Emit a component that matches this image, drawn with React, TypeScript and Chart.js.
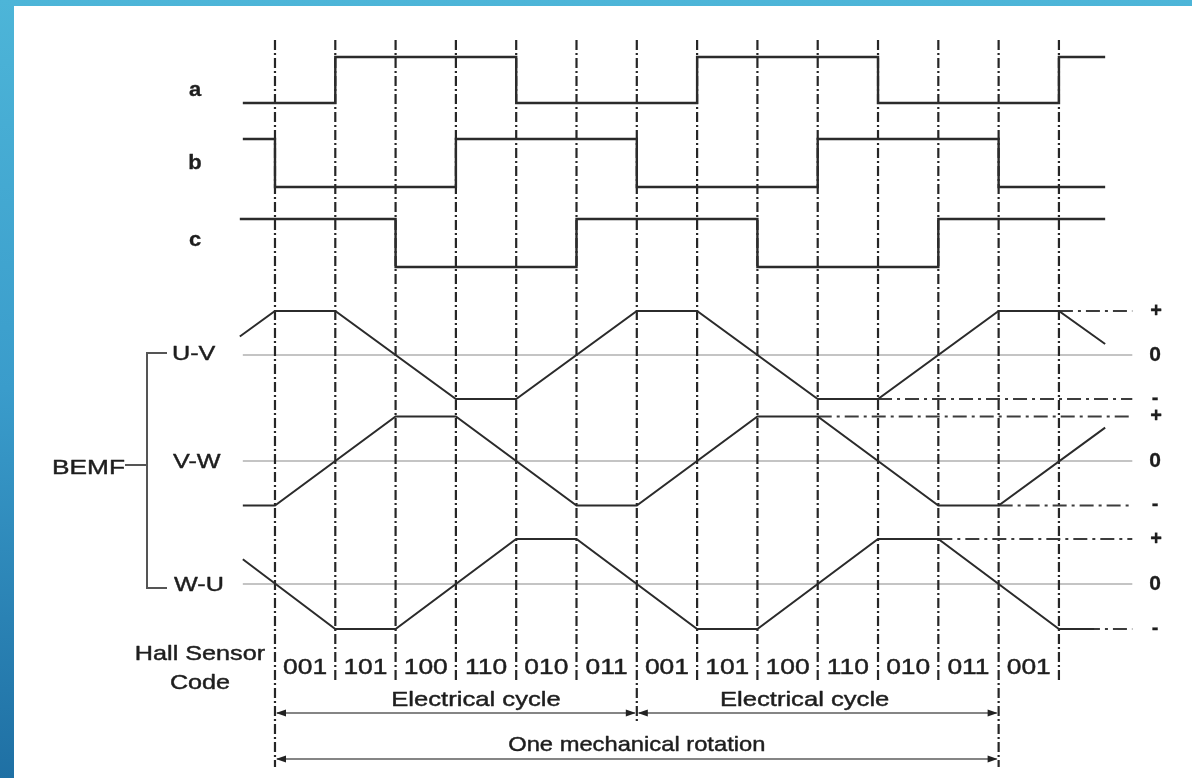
import React, { useEffect, useRef } from "react";
import { Chart, registerables } from "chart.js";

Chart.register(...registerables);

// ---- data (x in electrical degrees) ----
const boundaries = [0, 60, 120, 180, 240, 300, 360, 420, 480, 540, 600, 660, 720, 780];
const longBoundaries = [0, 720];
const midBoundaries = [360];
const hallCodes = ["001", "101", "100", "110", "010", "011", "001", "101", "100", "110", "010", "011", "001"];

// Hall signals: [edge angle, new level]
const hallA: number[][] = [[-32, 0], [60, 1], [240, 0], [420, 1], [600, 0], [780, 1], [826, 1]];
const hallB: number[][] = [[-32, 1], [0, 0], [180, 1], [360, 0], [540, 1], [720, 0], [826, 0]];
const hallC: number[][] = [[-35, 1], [120, 0], [300, 1], [480, 0], [660, 1], [826, 1]];

// BEMF trapezoids: [angle, level -1..1]
const bemfUV: number[][] = [[-35, 0.42], [0, 1], [60, 1], [180, -1], [240, -1], [360, 1], [420, 1], [540, -1], [600, -1], [720, 1], [780, 1], [826, 0.25]];
const bemfVW: number[][] = [[-32, -1], [0, -1], [120, 1], [180, 1], [300, -1], [360, -1], [480, 1], [540, 1], [660, -1], [720, -1], [826, 0.75]];
const bemfWU: number[][] = [[-32, 0.55], [60, -1], [120, -1], [240, 1], [300, 1], [420, -1], [480, -1], [600, 1], [660, 1], [780, -1], [815, -1]];

// level reference extensions: [lane, level, start angle]
const levelRefs: [string, number, number][] = [
  ["uv", 1, 780], ["uv", -1, 600],
  ["vw", 1, 540], ["vw", -1, 720],
  ["wu", 1, 660], ["wu", -1, 780],
];
const zeroStart = -32;
const refEnd = 853;

const electricalCycles = [[0, 360], [360, 720]];
const electricalLabelAt = [200, 527];
const mechanicalRotation = [0, 720];
const mechanicalLabelAt = 360;

// ---- layout (pixel lanes) ----
const lanes: Record<string, { base: number; amp: number }> = {
  a: { base: 103, amp: 46 },
  b: { base: 187, amp: 48 },
  c: { base: 267, amp: 48 },
  uv: { base: 355, amp: 44 },
  vw: { base: 461, amp: 44.5 },
  wu: { base: 584, amp: 45 },
};
const W = 1192;
const H = 778;
const gridTop = 40;
const gridBottom = 680;
const gridBottomLong = 767;
const gridBottomMid = 723;

const FONT = '"Liberation Sans", Arial, sans-serif';
const INK = "#1e1e1e";

function lanePts(pts: number[][], lane: string) {
  const l = lanes[lane];
  return pts.map(([x, v]) => ({ x, y: l.base - v * l.amp }));
}

function drawText(ctx: CanvasRenderingContext2D, text: string, x: number, y: number, o: { size?: number; bold?: boolean; sx?: number; align?: CanvasTextAlign; stroke?: number } = {}) {
  const { size = 21, bold = false, sx = 1.17, align = "center", stroke = 0.45 } = o;
  ctx.save();
  ctx.translate(x, y);
  ctx.scale(sx, 1);
  ctx.font = `${bold ? "bold " : ""}${size}px ${FONT}`;
  ctx.fillStyle = INK;
  ctx.strokeStyle = INK;
  ctx.lineWidth = stroke;
  ctx.lineJoin = "round";
  ctx.textAlign = align;
  ctx.textBaseline = "middle";
  ctx.fillText(text, 0, 0);
  if (stroke > 0) ctx.strokeText(text, 0, 0);
  ctx.restore();
}

function arrowHead(ctx: CanvasRenderingContext2D, x: number, y: number, dir: number) {
  ctx.beginPath();
  ctx.moveTo(x, y);
  ctx.lineTo(x - dir * 10, y - 3.5);
  ctx.lineTo(x - dir * 10, y + 3.5);
  ctx.closePath();
  ctx.fillStyle = "#222";
  ctx.fill();
}

function dimArrow(ctx: CanvasRenderingContext2D, x1: number, x2: number, y: number) {
  ctx.save();
  ctx.strokeStyle = "#858585";
  ctx.lineWidth = 2;
  ctx.setLineDash([]);
  ctx.beginPath();
  ctx.moveTo(x1 + 2, y);
  ctx.lineTo(x2 - 2, y);
  ctx.stroke();
  arrowHead(ctx, x1 + 1, y, -1);
  arrowHead(ctx, x2 - 1, y, 1);
  ctx.restore();
}

const annotations = {
  id: "annotations",
  afterDatasetsDraw(chart: any) {
    const ctx: CanvasRenderingContext2D = chart.ctx;
    const xs = chart.scales.x;
    const ys = chart.scales.y;
    const px = (d: number) => xs.getPixelForValue(d);

    // left labels
    drawText(ctx, "a", 195, 90, { bold: true, size: 20, sx: 1.1, stroke: 0.3 });
    drawText(ctx, "b", 195, 163, { bold: true, size: 20, sx: 1.1, stroke: 0.3 });
    drawText(ctx, "c", 195, 240, { bold: true, size: 20, sx: 1.1, stroke: 0.3 });
    drawText(ctx, "U-V", 172, lanes.uv.base - 1, { align: "left", sx: 1.2 });
    drawText(ctx, "V-W", 173, lanes.vw.base + 1, { align: "left", sx: 1.2 });
    drawText(ctx, "W-U", 174, lanes.wu.base + 1, { align: "left", sx: 1.2 });
    drawText(ctx, "BEMF", 52, 468, { align: "left", sx: 1.25 });

    // bracket
    ctx.save();
    ctx.strokeStyle = "#555";
    ctx.lineWidth = 2;
    ctx.beginPath();
    ctx.moveTo(167, 353);
    ctx.lineTo(147, 353);
    ctx.lineTo(147, 588);
    ctx.lineTo(167, 588);
    ctx.moveTo(125, 465);
    ctx.lineTo(147, 465);
    ctx.stroke();
    ctx.restore();

    // right level markers
    for (const k of ["uv", "vw", "wu"]) {
      const l = lanes[k];
      drawText(ctx, "+", 1156, ys.getPixelForValue(l.base - l.amp), { bold: true, size: 20, sx: 1, stroke: 0.3 });
      drawText(ctx, "0", 1155, ys.getPixelForValue(l.base), { bold: true, size: 20, sx: 1.05, stroke: 0.3 });
      drawText(ctx, "-", 1155, ys.getPixelForValue(l.base + l.amp) - 1, { bold: true, size: 20, sx: 1, stroke: 0.3 });
    }

    // hall codes
    drawText(ctx, "Hall Sensor", 200, 654, { sx: 1.2 });
    drawText(ctx, "Code", 200, 683, { sx: 1.2 });
    hallCodes.forEach((code, i) => {
      const mid = (boundaries[i] + boundaries[i + 1]) / 2;
      drawText(ctx, code, px(mid), 668, { size: 22, sx: 1.2 });
    });

    // electrical cycles
    electricalCycles.forEach(([a, b], i) => {
      dimArrow(ctx, px(a), px(b), 713);
      drawText(ctx, "Electrical cycle", px(electricalLabelAt[i]), 700, { sx: 1.22 });
    });
    dimArrow(ctx, px(mechanicalRotation[0]), px(mechanicalRotation[1]), 759);
    drawText(ctx, "One mechanical rotation", px(mechanicalLabelAt), 745, { sx: 1.13 });
  },
};

export default function App() {
  const ref = useRef<HTMLCanvasElement | null>(null);

  useEffect(() => {
    if (!ref.current) return;
    const datasets: any[] = [];

    // vertical dash-dot boundaries
    boundaries.forEach((b) => {
      const bottom = longBoundaries.includes(b) ? gridBottomLong : midBoundaries.includes(b) ? gridBottomMid : gridBottom;
      datasets.push({
        data: [{ x: b, y: gridTop }, { x: b, y: bottom }],
        borderColor: "#262626",
        borderWidth: 2.2,
        borderDash: [10, 3, 2, 3],
        order: 3,
      });
    });

    // zero lines
    for (const k of ["uv", "vw", "wu"]) {
      datasets.push({
        data: lanePts([[zeroStart, 0], [refEnd, 0]], k),
        borderColor: "#c4c4c4",
        borderWidth: 2,
        order: 4,
      });
    }

    // level reference extensions
    levelRefs.forEach(([k, lv, start]) => {
      datasets.push({
        data: lanePts([[start, lv], [refEnd, lv]], k),
        borderColor: "#3c3c3c",
        borderWidth: 2,
        borderDash: [14, 5, 3, 5],
        order: 2,
      });
    });

    // hall signals
    ([[hallA, "a"], [hallB, "b"], [hallC, "c"]] as [number[][], string][]).forEach(([pts, k]) => {
      datasets.push({
        data: lanePts(pts, k),
        stepped: true,
        borderColor: "#2b2b2b",
        borderWidth: 2.4,
        order: 0,
      });
    });

    // BEMF
    ([[bemfUV, "uv"], [bemfVW, "vw"], [bemfWU, "wu"]] as [number[][], string][]).forEach(([pts, k]) => {
      datasets.push({
        data: lanePts(pts, k),
        borderColor: "#2b2b2b",
        borderWidth: 2,
        order: 1,
      });
    });

    const chart = new Chart(ref.current, {
      type: "line",
      data: { datasets },
      options: {
        animation: false,
        responsive: false,
        maintainAspectRatio: false,
        parsing: false,
        layout: { padding: 0 },
        elements: { point: { radius: 0 }, line: { tension: 0, fill: false, borderCapStyle: "butt" } },
        plugins: { legend: { display: false }, tooltip: { enabled: false } },
        scales: {
          x: { type: "linear", display: false, min: -273.6, max: 912.4 },
          y: { type: "linear", display: false, min: 0, max: H, reverse: true },
        },
      },
      plugins: [annotations],
    } as any);
    return () => chart.destroy();
  }, []);

  return (
    <div style={{ position: "fixed", left: 0, top: 0, width: W, height: H, background: "linear-gradient(to bottom, #4db5d8 0%, #3a9ccb 50%, #1f70a4 100%)", overflow: "hidden" }}>
      <div style={{ position: "absolute", left: 14, top: 6, right: 0, bottom: 0, background: "#fff" }} />
      <canvas ref={ref} width={W} height={H} style={{ position: "absolute", left: 0, top: 0, width: W, height: H }} />
    </div>
  );
}
